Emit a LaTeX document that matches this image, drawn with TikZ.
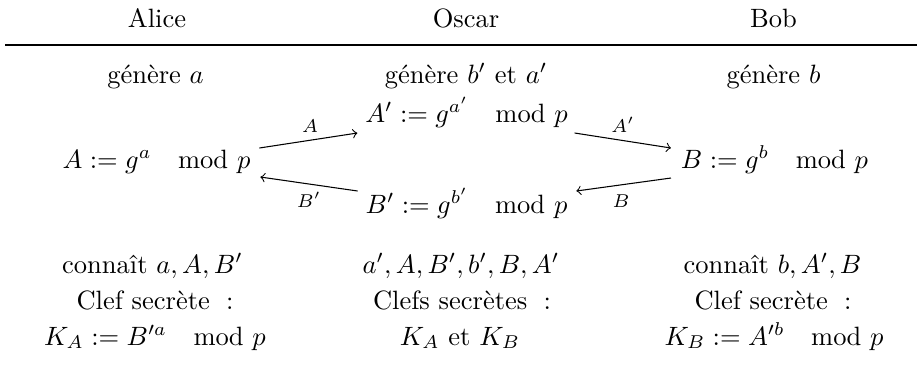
\documentclass[tikz,border=0pt]{standalone}
\usepackage{fontspec}
\usepackage{amsmath}
\usetikzlibrary{calc}
\newcommand{\mdp}{\mkern18mu\mathrm{mod}\,\,p}
\begin{document}
\begin{tikzpicture}[x=0.37736pt,y=-0.37736pt,
  txt/.style={anchor=base,inner sep=0pt,outer sep=0pt},
  lbl/.style={anchor=base,inner sep=0pt,outer sep=0pt},
  msg/.style={->,line width=0.4pt},
  hrule/.style={line width=0.6pt}]
\useasboundingbox (0,0) rectangle (917,372);
% header
\node[txt] (alice) at (157,27.7) {Alice};
\node[txt] (oscar) at (466,27.7) {Oscar};
\node[txt] (bob) at (773.5,27.7) {Bob};
\coordinate (rl) at (5,45);
\coordinate (rr) at (917,45);
\draw[hrule] (rl) -- (rr);
% generation
\node[txt] (genA) at (155.5,83) {génère $a$};
\node[txt] (genO) at (466,83) {génère $b'$ et $a'$};
\node[txt] (genB) at (773.5,83) {génère $b$};
% exchange
\node[txt] (A) at (156.5,168.5) {$A := g^a \mdp$};
\node[txt] (A1) at (466.5,122.5) {$A' := g^{a'} \mdp$};
\node[txt] (B1) at (466.5,213) {$B' := g^{b'} \mdp$};
\node[txt] (B) at (774.5,168.5) {$B := g^b \mdp$};
\draw[msg] ($(A.base east)+(9,-20.5)$) -- ($(A1.base west)+(-8,10.5)$);
\draw[msg] ($(A1.base east)+(7,10.5)$) -- ($(B.base west)+(-10,-20.5)$);
\draw[msg] ($(B.base west)+(-10,9.5)$) -- ($(B1.base east)+(9,-22)$);
\draw[msg] ($(B1.base west)+(-8,-22)$) -- ($(A.base east)+(10,8.5)$);
\node[lbl] (lA) at (310,132) {$\scriptstyle A$};
\node[lbl] (lA1) at (623,132) {$\scriptstyle A'$};
\node[lbl] (lB) at (621,207) {$\scriptstyle B$};
\node[lbl] (lB1) at (309,207) {$\scriptstyle B'$};
% knowledge
\node[txt] (kA) at (152.5,273) {connaît $a, A, B'$};
\node[txt] (kO) at (461,273) {$a', A, B', b', B, A'$};
\node[txt] (kB) at (772.5,273) {connaît $b, A', B$};
\node[txt] (sA) at (155,309) {Clef secrète\hspace{2.78pt} :};
\node[txt] (sO) at (462,309) {Clefs secrètes\hspace{2.78pt} :};
\node[txt] (sB) at (773,309) {Clef secrète\hspace{2.78pt} :};
\node[txt] (KA) at (155,345) {$K_A := B'^a \mdp$};
\node[txt] (KO) at (460,345) {$K_A$ et $K_B$};
\node[txt] (KB) at (774,345) {$K_B := A'^b \mdp$};
\end{tikzpicture}
\end{document}
